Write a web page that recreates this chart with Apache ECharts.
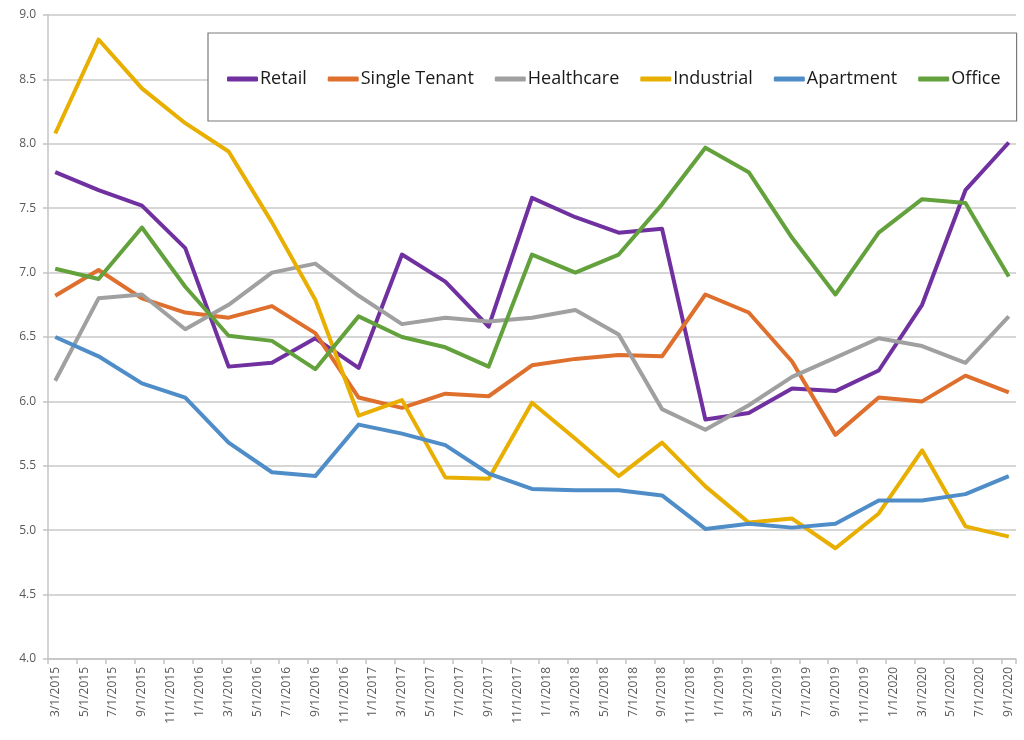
<!DOCTYPE html>
<html>
<head>
<meta charset="utf-8">
<script src="https://cdn.jsdelivr.net/npm/echarts@6/dist/echarts.min.js"></script>
<style>
	html, body { margin: 0; padding: 0; background: #fff; }
	#chart { width: 1024px; height: 740px; }
</style>
</head>
<body>
<div id="chart"></div>
<script>
// monthly slots on the date axis, labelled every 2 months
var months = [
	'3/1/2015', '4/1/2015', '5/1/2015', '6/1/2015', '7/1/2015', '8/1/2015', '9/1/2015', '10/1/2015', '11/1/2015', '12/1/2015',
	'1/1/2016', '2/1/2016', '3/1/2016', '4/1/2016', '5/1/2016', '6/1/2016', '7/1/2016', '8/1/2016', '9/1/2016', '10/1/2016', '11/1/2016', '12/1/2016',
	'1/1/2017', '2/1/2017', '3/1/2017', '4/1/2017', '5/1/2017', '6/1/2017', '7/1/2017', '8/1/2017', '9/1/2017', '10/1/2017', '11/1/2017', '12/1/2017',
	'1/1/2018', '2/1/2018', '3/1/2018', '4/1/2018', '5/1/2018', '6/1/2018', '7/1/2018', '8/1/2018', '9/1/2018', '10/1/2018', '11/1/2018', '12/1/2018',
	'1/1/2019', '2/1/2019', '3/1/2019', '4/1/2019', '5/1/2019', '6/1/2019', '7/1/2019', '8/1/2019', '9/1/2019', '10/1/2019', '11/1/2019', '12/1/2019',
	'1/1/2020', '2/1/2020', '3/1/2020', '4/1/2020', '5/1/2020', '6/1/2020', '7/1/2020', '8/1/2020', '9/1/2020'
];

// quarterly observation dates
var quarters = [
	'3/1/2015', '6/1/2015', '9/1/2015', '12/1/2015',
	'3/1/2016', '6/1/2016', '9/1/2016', '12/1/2016',
	'3/1/2017', '6/1/2017', '9/1/2017', '12/1/2017',
	'3/1/2018', '6/1/2018', '9/1/2018', '12/1/2018',
	'3/1/2019', '6/1/2019', '9/1/2019', '12/1/2019',
	'3/1/2020', '6/1/2020', '9/1/2020'
];

var retail       = [7.78, 7.64, 7.52, 7.19, 6.27, 6.30, 6.49, 6.26, 7.14, 6.93, 6.58, 7.58, 7.43, 7.31, 7.34, 5.86, 5.91, 6.10, 6.08, 6.24, 6.75, 7.64, 8.01];
var singleTenant = [6.82, 7.02, 6.80, 6.69, 6.65, 6.74, 6.53, 6.03, 5.95, 6.06, 6.04, 6.28, 6.33, 6.36, 6.35, 6.83, 6.69, 6.31, 5.74, 6.03, 6.00, 6.20, 6.07];
var healthcare   = [6.16, 6.80, 6.83, 6.56, 6.75, 7.00, 7.07, 6.82, 6.60, 6.65, 6.62, 6.65, 6.71, 6.52, 5.94, 5.78, 5.97, 6.19, 6.34, 6.49, 6.43, 6.30, 6.66];
var industrial   = [8.08, 8.81, 8.43, 8.16, 7.94, 7.39, 6.79, 5.89, 6.01, 5.41, 5.40, 5.99, 5.71, 5.42, 5.68, 5.34, 5.06, 5.09, 4.86, 5.13, 5.62, 5.03, 4.95];
var apartment    = [6.50, 6.35, 6.14, 6.03, 5.68, 5.45, 5.42, 5.82, 5.75, 5.66, 5.44, 5.32, 5.31, 5.31, 5.27, 5.01, 5.05, 5.02, 5.05, 5.23, 5.23, 5.28, 5.42];
var office       = [7.03, 6.95, 7.35, 6.89, 6.51, 6.47, 6.25, 6.66, 6.50, 6.42, 6.27, 7.14, 7.00, 7.14, 7.53, 7.97, 7.78, 7.27, 6.83, 7.31, 7.57, 7.54, 6.97];

var names  = ['Retail', 'Single Tenant', 'Healthcare', 'Industrial', 'Apartment', 'Office'];
var values = [retail, singleTenant, healthcare, industrial, apartment, office];
var colors = ['#7030A0', '#DE6F2D', '#A0A0A0', '#E8AF00', '#4F8DC8', '#62A13C'];

var font = "'Open Sans', sans-serif";

function pairs(vals) {
	var out = [];
	for (var i = 0; i < quarters.length; i++) {
		out.push([quarters[i], vals[i]]);
	}
	return out;
}

var series = [];
for (var k = 0; k < names.length; k++) {
	series.push({
		name: names[k],
		type: 'line',
		data: pairs(values[k]),
		symbol: 'none',
		color: colors[k],
		lineStyle: { width: 4, color: colors[k], join: 'round' },
		animation: false
	});
}

var chart = echarts.init(document.getElementById('chart'));
chart.setOption({
	backgroundColor: '#fff',
	color: colors,
	grid: { left: 48, right: 8, top: 15, bottom: 81, containLabel: false },
	legend: {
		left: 208,
		top: 33,
		padding: [37, 16, 33, 19],
		itemGap: 21,
		itemWidth: 31,
		itemHeight: 5,
		icon: 'roundRect',
		borderColor: '#7a7a7a',
		borderWidth: 1.2,
		backgroundColor: '#fff',
		textStyle: { fontFamily: font, fontSize: 18, color: '#1a1a1a', padding: [0, 0, 0, -3] },
		data: names
	},
	xAxis: {
		type: 'category',
		data: months,
		boundaryGap: true,
		axisLine: { lineStyle: { color: '#c4c4c4', width: 1.5 } },
		axisTick: { show: true, interval: 1, length: 5, lineStyle: { color: '#c4c4c4', width: 1.5 } },
		axisLabel: {
			interval: 1,
			rotate: 90,
			margin: 8,
			color: '#595959',
			fontFamily: font,
			fontSize: 12
		}
	},
	yAxis: {
		type: 'value',
		min: 4,
		max: 9,
		interval: 0.5,
		axisLine: { show: true, lineStyle: { color: '#c4c4c4', width: 1.5 } },
		axisTick: { show: true, length: 5, lineStyle: { color: '#c4c4c4', width: 1.5 } },
		splitLine: { lineStyle: { color: '#c8c8c8', width: 1.5 } },
		axisLabel: {
			margin: 12,
			color: '#595959',
			fontFamily: font,
			fontSize: 12,
			formatter: function (v) { return v.toFixed(1); }
		}
	},
	series: series
});
</script>
</body>
</html>
